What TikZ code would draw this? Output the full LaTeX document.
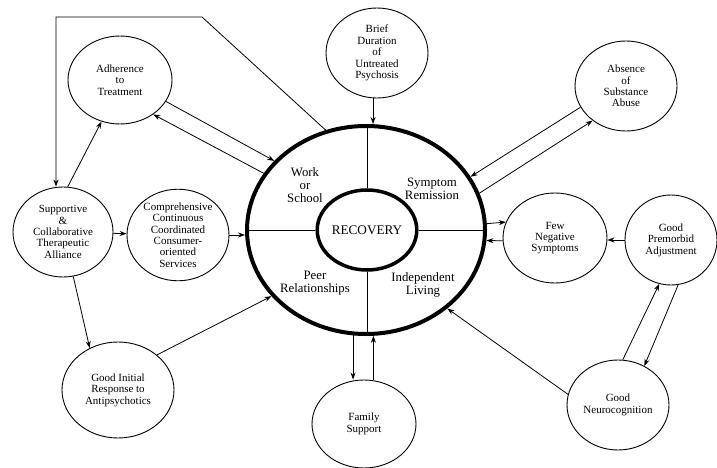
\documentclass[tikz,border=0pt]{standalone}
\usepackage{fontspec}
\setmainfont{Liberation Serif}
\usetikzlibrary{shapes.geometric,arrows.meta}
\begin{document}
\begin{tikzpicture}[x=1pt,y=-1pt,
  bub/.style={draw, ellipse, line width=0.9pt, inner sep=0pt, align=center, font=\fontsize{11}{11.4}\selectfont},
  lbl/.style={align=center, font=\fontsize{12.8}{13.3}\selectfont, inner sep=0pt},
  conn/.style={line width=0.8pt},
  arr/.style={conn, -{Stealth[length=7pt,width=5pt]}}
]
\useasboundingbox (0,0) rectangle (717,468);
% central rings
\node[draw, ellipse, line width=4pt, minimum width=238pt, minimum height=208pt, inner sep=0pt] (big) at (366,230) {};
\node[draw, ellipse, line width=3.5pt, minimum width=94pt, minimum height=80pt, inner sep=0pt, font=\fontsize{13.2}{14}\selectfont] (rec) at (367,230) {RECOVERY};
\draw[conn] (rec.north) -- (rec.north |- big.north);
\draw[conn] (rec.south) -- (rec.south |- big.south);
\draw[conn] (rec.west) -- (big.west);
\draw[conn] (rec.east) -- (big.east);
\node[lbl] (work) at (305,185) {Work\\or\\School};
\node[lbl] (symp) at (432,189) {Symptom\\Remission};
\node[lbl] (peer) at (315,283) {Peer\\Relationships};
\node[lbl] (indep) at (423,285) {Independent\\Living};
% outer factors
\node[bub, minimum width=104pt, minimum height=88pt] (adh) at (120,80) {Adherence\\to\\Treatment};
\node[bub, minimum width=102pt, minimum height=90pt] (brief) at (377,53) {Brief\\Duration\\of\\Untreated\\Psychosis};
\node[bub, minimum width=102pt, minimum height=90pt] (abs) at (626,86) {Absence\\of\\Substance\\Abuse};
\node[bub, minimum width=100pt, minimum height=90pt] (supp) at (63,232) {Supportive\\\&\\Collaborative\\Therapeutic\\Alliance};
\node[bub, minimum width=102pt, minimum height=86pt] (comp) at (178,235) {Comprehensive\\Continuous\\Coordinated\\Consumer-\\oriented\\Services};
\node[bub, minimum width=104pt, minimum height=90pt] (few) at (555,238) {Few\\Negative\\Symptoms};
\node[bub, minimum width=92pt, minimum height=90pt] (pre) at (671,240) {Good\\Premorbid\\Adjustment};
\node[bub, minimum width=112pt, minimum height=96pt] (gir) at (118,390) {Good Initial\\Response to\\Antipsychotics};
\node[bub, minimum width=104pt, minimum height=88pt] (fam) at (364,424) {Family\\Support};
\node[bub, minimum width=102pt, minimum height=90pt] (neuro) at (618,405) {Good\\Neurocognition};
% connectors
\coordinate (f1) at (202,17);
\coordinate (f2) at (56,17);
\draw[arr] (big.112) -- (f1) -- (f2) -- (f2 |- supp.north);
\draw[arr] (supp.84) -- (adh.-114);
\draw[arr] (adh.-25.6) -- (big.143.5);
\draw[arr] (big.151.3) -- (adh.-46.5);
\draw[arr] (brief.-95) -- (brief.-95 |- big.north);
\draw[arr] (abs.205.5) -- (big.27.6);
\draw[arr] (big.18.6) -- (abs.226.5);
\draw[arr] (supp) -- (comp);
\draw[arr] (comp.east) -- (comp.east -| big.west);
\draw[arr] (big.3.8) -- (few.162);
\draw[arr] (few.183.4) -- (big.-5.2);
\draw[arr] (pre.west) -- (pre.west -| few.east);
\draw[arr] (neuro.84) -- (pre.-105.8);
\draw[arr] (pre.-81) -- (neuro.56);
\draw[arr] (neuro.168.5) -- (big.-44.6);
\draw[arr] (big.-97.2) -- (big.-97.2 |- fam.north);
\draw[arr] (big.-86.1 |- fam.north) -- (big.-86.1);
\draw[arr] (supp.-77.5) -- (gir.124);
\draw[arr] (gir.42) -- (big.215.8);
\end{tikzpicture}
\end{document}
